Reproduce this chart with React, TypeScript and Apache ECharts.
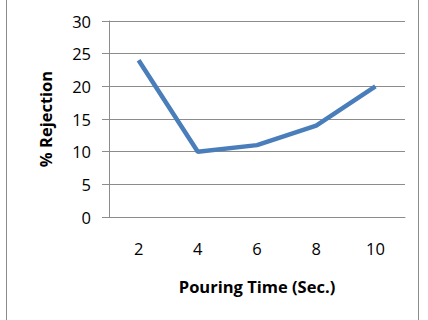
import React, { useEffect, useRef } from "react";
import * as echarts from "echarts";

const categories = ["2", "4", "6", "8", "10"];
const rejection = [24, 10, 11, 14, 20];
const xTitle = "Pouring Time (Sec.)";
const yTitle = "% Rejection";

export default function App() {
  const ref = useRef<HTMLDivElement>(null);
  useEffect(() => {
    document.body.style.margin = "0";
    const chart = echarts.init(ref.current!, null, { renderer: "svg" });
    const font = "Open Sans";
    chart.setOption({
      animation: false,
      backgroundColor: "#ffffff",
      textStyle: { fontFamily: font },
      grid: { left: 109, right: 23, top: 21, bottom: 103, containLabel: false },
      graphic: [
        { type: "line", shape: { x1: 6.5, y1: 0, x2: 6.5, y2: 320 }, style: { stroke: "#8c8c8c", lineWidth: 1 } },
        { type: "line", shape: { x1: 418.5, y1: 0, x2: 418.5, y2: 320 }, style: { stroke: "#8c8c8c", lineWidth: 1 } },
      ],
      xAxis: {
        type: "category",
        data: categories,
        boundaryGap: true,
        axisLine: { show: true, lineStyle: { color: "#8c8c8c", width: 1 } },
        axisTick: { show: false },
        axisLabel: { color: "#000", fontSize: 16.5, fontFamily: font, margin: 23 },
        name: xTitle,
        nameLocation: "middle",
        nameGap: 61,
        nameTextStyle: { color: "#000", fontSize: 16.5, fontWeight: "bold", fontFamily: font },
      },
      yAxis: {
        type: "value",
        min: 0,
        max: 30,
        interval: 5,
        axisLine: { show: true, lineStyle: { color: "#8c8c8c", width: 1 } },
        axisTick: { show: true, length: 7, lineStyle: { color: "#8c8c8c" } },
        splitLine: { show: true, lineStyle: { color: "#8c8c8c", width: 1 } },
        axisLabel: { color: "#000", fontSize: 16.5, fontFamily: font, margin: 18 },
        name: yTitle,
        nameLocation: "middle",
        nameGap: 55,
        nameRotate: 90,
        nameTextStyle: { color: "#000", fontSize: 16.5, fontWeight: "bold", fontFamily: font },
      },
      series: [
        {
          type: "line",
          data: rejection,
          symbol: "none",
          lineStyle: { color: "#4a7ebb", width: 4.5 },
        },
      ],
    });
    return () => chart.dispose();
  }, []);
  return <div ref={ref} style={{ position: "absolute", left: 0, top: 0, width: 428, height: 320 }} />;
}
